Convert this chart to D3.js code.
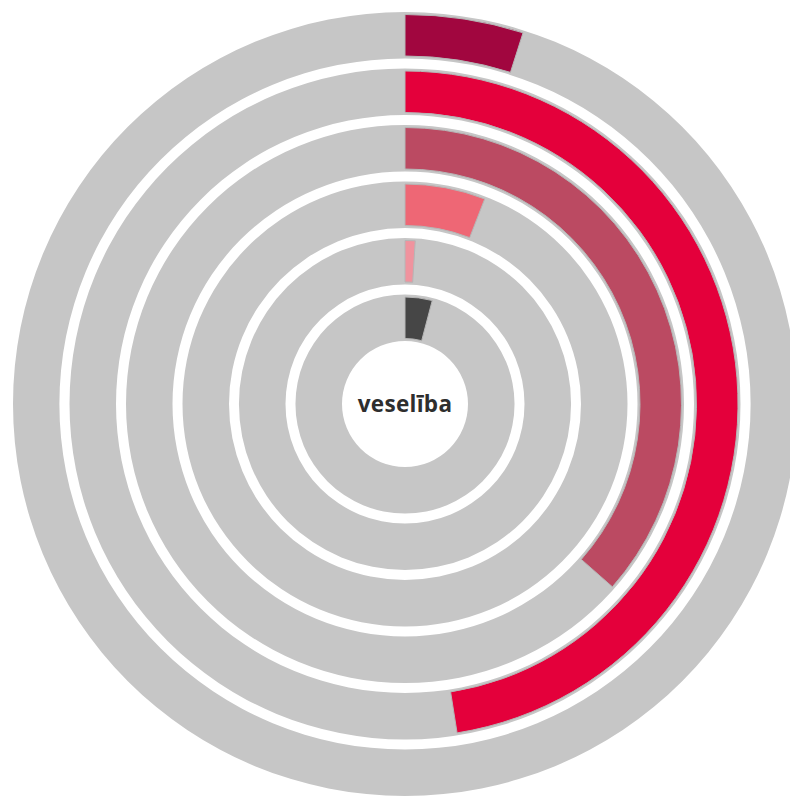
<!DOCTYPE html>
<html>
<head>
<meta charset="utf-8">
<script src="https://cdn.jsdelivr.net/npm/d3@7"></script>
<style>
  html, body { margin: 0; padding: 0; background: #ffffff; }
  svg { display: block; }
</style>
</head>
<body>
<svg id="chart" width="790" height="796"></svg>
<script>
// Data (percent shares, outermost ring first)
const categories = ["A", "B", "C", "D", "E", "F"];
const values = [4.9, 47.5, 36.5, 5.9, 1.0, 4.1];
const colors = ["#a1063f", "#e4003b", "#bb4a62", "#ee6775", "#f0939e", "#464646"];
const centerLabel = "veselība";

const width = 790, height = 796;
const cx = 405, cy = 404;
const innerR = 63, outerR = 392;

const svg = d3.select("#chart");
const g = svg.append("g").attr("transform", `translate(${cx},${cy})`);

const r = d3.scaleBand()
  .domain(categories)
  .range([outerR, innerR])
  .paddingInner(0.177)
  .paddingOuter(0);

const angle = d3.scaleLinear().domain([0, 100]).range([0, 2 * Math.PI]);

const inset = 2.5;

// Tracks
g.selectAll("path.track")
  .data(categories)
  .join("path")
  .attr("class", "track")
  .attr("fill", "#c6c6c6")
  .attr("d", d => d3.arc()
    .innerRadius(r(d))
    .outerRadius(r(d) + r.bandwidth())
    .startAngle(0)
    .endAngle(2 * Math.PI)());

// Bars
g.selectAll("path.bar")
  .data(categories.map((c, i) => ({ c, v: values[i], col: colors[i] })))
  .join("path")
  .attr("class", "bar")
  .attr("fill", d => d.col)
  .attr("stroke", "#b6b6b6")
  .attr("stroke-width", 1)
  .attr("d", d => d3.arc()
    .innerRadius(r(d.c) + inset)
    .outerRadius(r(d.c) + r.bandwidth() - inset)
    .startAngle(angle(0))
    .endAngle(angle(d.v))());

// Center label
g.append("text")
  .attr("x", 0)
  .attr("y", 8)
  .attr("text-anchor", "middle")
  .attr("font-family", "'Open Sans', sans-serif")
  .attr("font-weight", "bold")
  .attr("font-size", 22.5)
  .attr("letter-spacing", 0.3)
  .attr("fill", "#2e2e2e")
  .text(centerLabel);
</script>
</body>
</html>
